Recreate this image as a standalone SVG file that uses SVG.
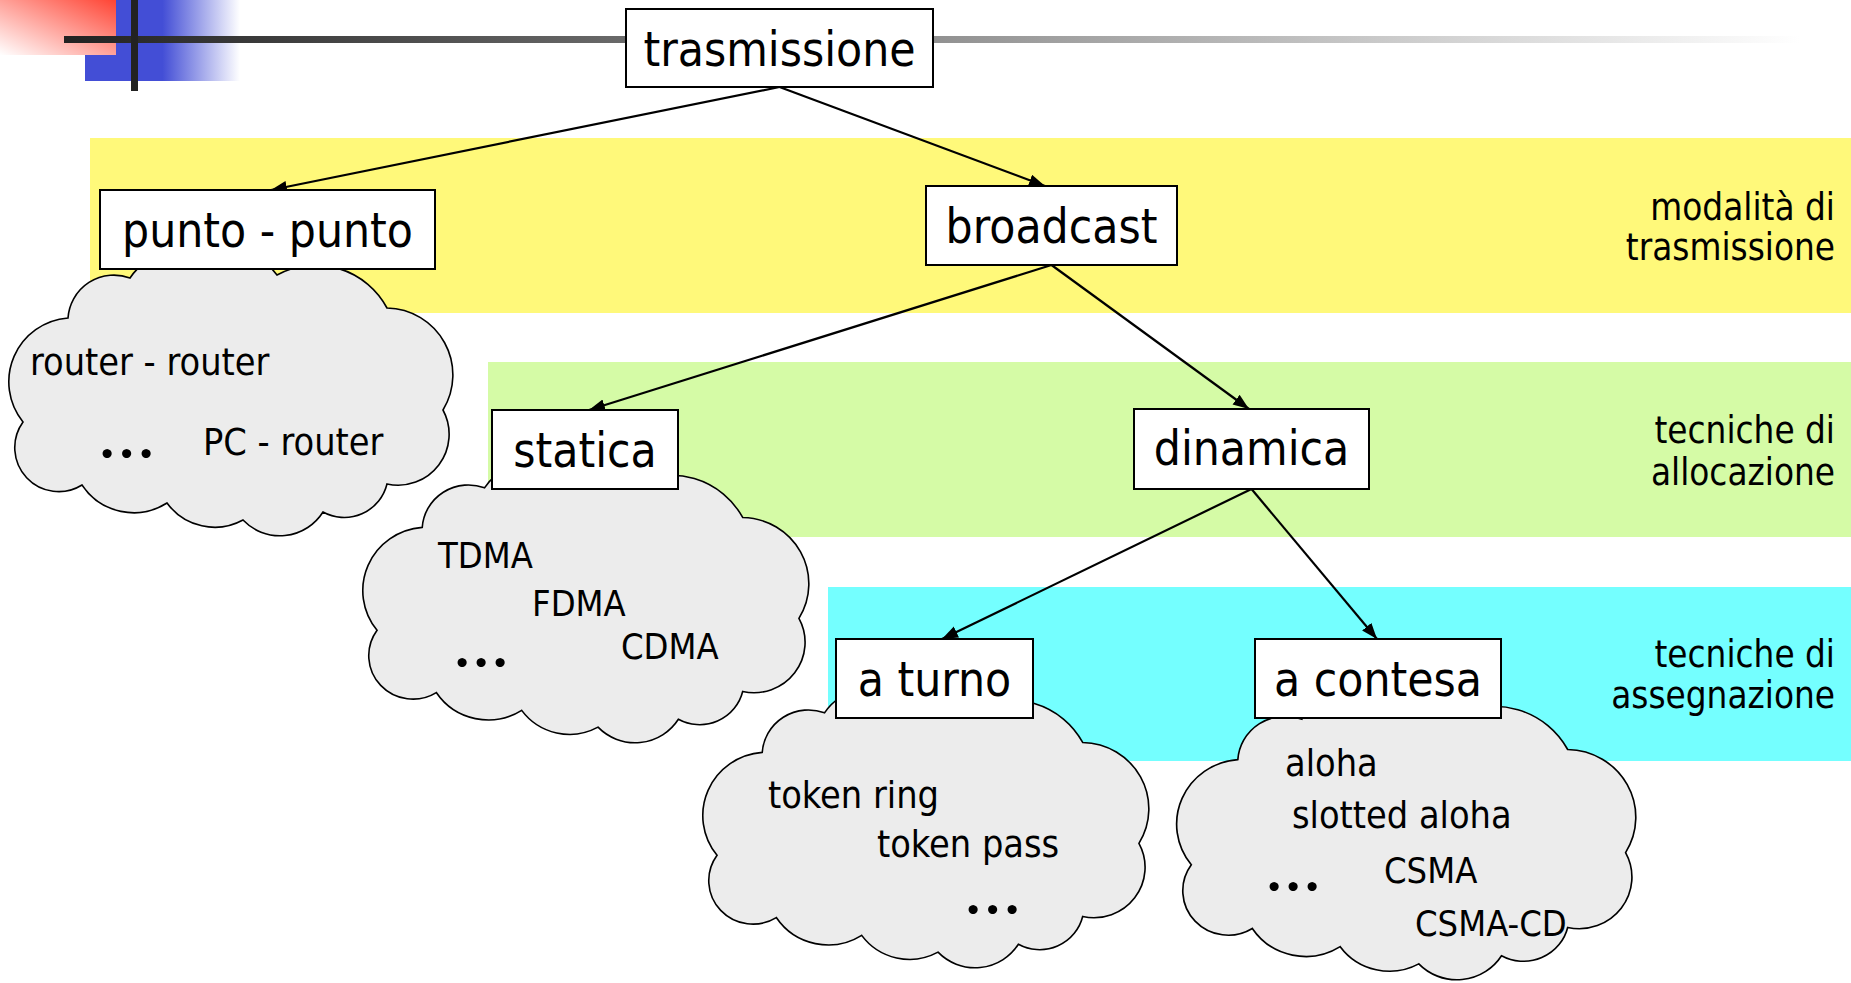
<svg xmlns="http://www.w3.org/2000/svg" width="1851" height="983" viewBox="0 0 1851 983">
<style>
.box{fill:#fff;stroke:#000;stroke-width:2}
.cloud{fill:#ececec;stroke:#000;stroke-width:1.6}
.lbl{font-family:'DejaVu Sans Condensed','DejaVu Sans',sans-serif;font-stretch:condensed;fill:#000}
.big{font-size:47.5px;text-anchor:middle}
.sm{font-size:37.5px}
.up{font-size:36px}
.side{font-size:36.5px;text-anchor:end}
.dots{font-family:Lato,'DejaVu Sans',sans-serif;font-weight:bold;font-size:60px;text-anchor:middle;fill:#000}
.conn{stroke:#000;stroke-width:2.2;fill:none;marker-end:url(#ah)}
</style>
<defs>
<linearGradient id="gRed" x1="1" y1="0" x2="0" y2="1">
<stop offset="0" stop-color="#ff4434"/>
<stop offset="1" stop-color="#ffffff"/>
</linearGradient>
<linearGradient id="gBlue" x1="0" y1="0" x2="1" y2="0">
<stop offset="0" stop-color="#434ed6"/>
<stop offset="0.5" stop-color="#434ed6"/>
<stop offset="1" stop-color="#ffffff"/>
</linearGradient>
<linearGradient id="gLine" x1="0" y1="0" x2="1" y2="0">
<stop offset="0" stop-color="#222222"/>
<stop offset="1" stop-color="#ffffff"/>
</linearGradient>
<marker id="ah" markerUnits="userSpaceOnUse" markerWidth="17" markerHeight="13" refX="16" refY="6" orient="auto">
<path d="M0,0 L16,6 L0,12 Z" fill="#000"/>
</marker>
<path id="cloudShape" d="M54,56 A46,46 0 0 1 116,16 A50,50 0 0 1 190,5 A50,50 0 0 1 263,13 A81,81 0 0 1 373,46 A67,67 0 0 1 429,148 A51,51 0 0 1 373,222 A44,44 0 0 1 309,250 A51,51 0 0 1 229,258 A59,59 0 0 1 153,241 A62,62 0 0 1 68,223 A44,44 0 0 1 9,160 A64,64 0 0 1 54,56 Z"/>
</defs>

<g id="bands">
<rect x="90" y="138" width="1761" height="175" fill="#fff97a"/>
<rect x="488" y="362" width="1363" height="175" fill="#d5fba6"/>
<rect x="828" y="587" width="1023" height="174" fill="#74ffff"/>
</g>

<g id="header">
<rect x="85" y="0" width="155" height="81" fill="url(#gBlue)"/>
<rect x="0" y="0" width="116" height="55" fill="url(#gRed)"/>
<rect x="64" y="36" width="1736" height="7" fill="url(#gLine)"/>
<rect x="131" y="0" width="7" height="91" fill="#222"/>
</g>

<g id="side-labels" class="lbl">
<text class="side" x="1835" y="220">modalità di</text>
<text class="side" x="1835" y="260">trasmissione</text>
<text class="side" x="1835" y="443">tecniche di</text>
<text class="side" x="1835" y="485">allocazione</text>
<text class="side" x="1835" y="667">tecniche di</text>
<text class="side" x="1835" y="708">assegnazione</text>
</g>

<g id="cloud-punto">
<use href="#cloudShape" class="cloud" transform="translate(14,262)"/>
<text class="lbl sm" x="30" y="375">router - router</text>
<text class="lbl sm" x="203" y="455">PC - router</text>
<text class="dots" x="107 126.5 146" y="458">...</text>
</g>

<g id="cloud-statica">
<use href="#cloudShape" class="cloud" transform="translate(368,472) scale(1.0045,0.989)"/>
<text class="lbl up" x="438" y="568">TDMA</text>
<text class="lbl up" x="532" y="616">FDMA</text>
<text class="lbl up" x="621" y="659">CDMA</text>
<text class="dots" x="462 481 500" y="667">...</text>
</g>

<g id="cloud-turno">
<use href="#cloudShape" class="cloud" transform="translate(708,697) scale(1.0045,0.989)"/>
<text class="lbl sm" x="768" y="808">token ring</text>
<text class="lbl sm" x="877" y="857">token pass</text>
<text class="dots" x="973 992.5 1012" y="914">...</text>
</g>

<g id="cloud-contesa">
<use href="#cloudShape" class="cloud" transform="translate(1182,703) scale(1.034,1.011)"/>
<text class="lbl sm" x="1285" y="776">aloha</text>
<text class="lbl sm" x="1292" y="828">slotted aloha</text>
<text class="lbl up" x="1384" y="883">CSMA</text>
<text class="lbl up" x="1415" y="936">CSMA-CD</text>
<text class="dots" x="1274 1293 1312" y="891">...</text>
</g>

<g id="connectors">
<line class="conn" x1="779.5" y1="87" x2="271" y2="190"/>
<line class="conn" x1="779.5" y1="87" x2="1045" y2="186"/>
<line class="conn" x1="1051.5" y1="265" x2="589" y2="410"/>
<line class="conn" x1="1051.5" y1="265" x2="1249" y2="409"/>
<line class="conn" x1="1251.5" y1="489" x2="942" y2="639"/>
<line class="conn" x1="1251.5" y1="489" x2="1377" y2="639"/>
</g>

<g id="node-trasmissione">
<rect class="box" x="626" y="9" width="307" height="78"/>
<text class="lbl big" x="779.5" y="66">trasmissione</text>
</g>
<g id="node-punto">
<rect class="box" x="100" y="190" width="335" height="79"/>
<text class="lbl big" x="267.5" y="247">punto - punto</text>
</g>
<g id="node-broadcast">
<rect class="box" x="926" y="186" width="251" height="79"/>
<text class="lbl big" x="1051.5" y="243">broadcast</text>
</g>
<g id="node-statica">
<rect class="box" x="492" y="410" width="186" height="79"/>
<text class="lbl big" x="585" y="467">statica</text>
</g>
<g id="node-dinamica">
<rect class="box" x="1134" y="409" width="235" height="80"/>
<text class="lbl big" x="1251.5" y="465">dinamica</text>
</g>
<g id="node-turno">
<rect class="box" x="836" y="639" width="197" height="79"/>
<text class="lbl big" x="934.5" y="696">a turno</text>
</g>
<g id="node-contesa">
<rect class="box" x="1255" y="639" width="246" height="79"/>
<text class="lbl big" x="1378" y="696">a contesa</text>
</g>
</svg>
